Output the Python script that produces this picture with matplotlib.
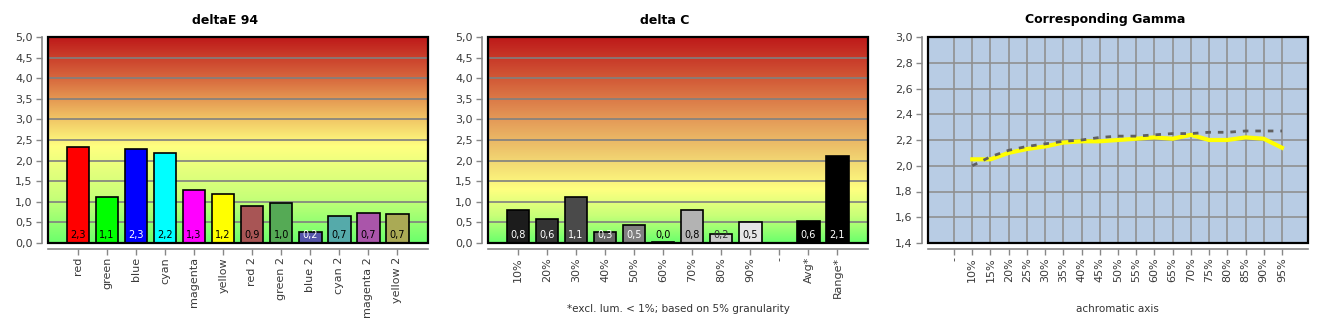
import matplotlib
matplotlib.use('Agg')
import matplotlib.pyplot as plt
import numpy as np
from matplotlib.colors import LinearSegmentedColormap
from matplotlib.patches import Rectangle

# deltaE 94
de_names = ['red', 'green', 'blue', 'cyan', 'magenta', 'yellow',
            'red 2', 'green 2', 'blue 2', 'cyan 2', 'magenta 2', 'yellow 2']
de_values = [2.33, 1.11, 2.28, 2.18, 1.28, 1.19, 0.90, 0.98, 0.27, 0.65, 0.73, 0.70]
de_labels = ['2,3', '1,1', '2,3', '2,2', '1,3', '1,2', '0,9', '1,0', '0,2', '0,7', '0,7', '0,7']
de_colors = ['#FF0000', '#00FF00', '#0000FF', '#00FFFF', '#FF00FF', '#FFFF00',
             '#A85555', '#55AA55', '#5555AA', '#55AAAA', '#AA55AA', '#AAAA55']
de_txt = ['black', 'black', 'white', 'black', 'black', 'black',
          'black', 'black', 'white', 'black', 'black', 'black']

# delta C
dc_names = ['10%', '20%', '30%', '40%', '50%', '60%', '70%', '80%', '90%', '-', 'Avg*', 'Range*']
dc_values = [0.80, 0.58, 1.11, 0.27, 0.44, 0.02, 0.80, 0.22, 0.51, None, 0.54, 2.12]
dc_labels = ['0,8', '0,6', '1,1', '0,3', '0,5', '0,0', '0,8', '0,2', '0,5', '', '0,6', '2,1']
dc_colors = ['#1C1C1C', '#333333', '#4A4A4A', '#666666', '#808080', '#999999',
             '#B3B3B3', '#CCCCCC', '#E6E6E6', 'none', '#000000', '#000000']
dc_txt = ['white', 'white', 'white', 'white', 'white', 'black',
          'black', '#333333', 'black', 'black', 'white', 'white']

# Corresponding Gamma
gm_names = ['-', '10%', '15%', '20%', '25%', '30%', '35%', '40%', '45%', '50%',
            '55%', '60%', '65%', '70%', '75%', '80%', '85%', '90%', '95%']
gm_measured = [np.nan, 2.05, 2.05, 2.10, 2.13, 2.15, 2.18, 2.19, 2.19, 2.20,
               2.21, 2.22, 2.21, 2.24, 2.20, 2.20, 2.22, 2.21, 2.14]
gm_target = [np.nan, 2.00, 2.07, 2.12, 2.15, 2.17, 2.19, 2.20, 2.22, 2.23,
             2.23, 2.24, 2.25, 2.25, 2.26, 2.26, 2.27, 2.27, 2.27]

yt_de = [0, 0.5, 1, 1.5, 2, 2.5, 3, 3.5, 4, 4.5, 5]
yt_de_lbl = ['0,0', '0,5', '1,0', '1,5', '2,0', '2,5', '3,0', '3,5', '4,0', '4,5', '5,0']
yt_gm = [1.4, 1.6, 1.8, 2.0, 2.2, 2.4, 2.6, 2.8, 3.0]
yt_gm_lbl = ['1,4', '1,6', '1,8', '2,0', '2,2', '2,4', '2,6', '2,8', '3,0']

plt.rcParams['font.family'] = 'DejaVu Sans'
tick_col = '#3A3A3A'
axis_col = '#888888'

fig = plt.figure(figsize=(13.3, 3.3), dpi=100)
W, H = 1330., 330.


def make_ax(x0):
    ax = fig.add_axes([x0 / W, (H - 243) / H, 380 / W, 206 / H])
    for s in ['top', 'right']:
        ax.spines[s].set_visible(False)
    for s in ['left', 'bottom']:
        ax.spines[s].set_position(('outward', 4))
        ax.spines[s].set_color(axis_col)
        ax.spines[s].set_linewidth(1.2)
    ax.tick_params(colors=axis_col, labelcolor=tick_col, labelsize=8, length=4, width=1)
    ax.tick_params(axis='x', pad=2)
    ax.tick_params(axis='y', pad=3)
    ax.add_patch(Rectangle((0, 0), 1, 1, transform=ax.transAxes, fill=False,
                           ec='black', lw=1.6, zorder=6, clip_on=False))
    return ax


def bar_panel(ax, names, vals, labels, colors, txtc, stops):
    n = len(names)
    x = np.arange(n)
    ax.set_xlim(-1.03, n + 0.05)
    ax.set_ylim(0, 5)
    cmap = LinearSegmentedColormap.from_list('g', stops, N=512)
    grad = np.linspace(0, 1, 206).reshape(-1, 1)
    ax.imshow(grad, cmap=cmap, origin='lower', aspect='auto', interpolation='none',
              extent=[-1.03, n + 0.05, 0, 5], zorder=0)
    for y in yt_de[1:-1]:
        ax.axhline(y, color='#808080', lw=1.2, zorder=1)
    for i in range(n):
        if vals[i] is None:
            continue
        ax.bar(x[i], vals[i], width=0.77, color=colors[i], edgecolor='black',
               lw=1.2, zorder=2)
        ax.text(x[i], 0.19, labels[i], ha='center', va='center', fontsize=7,
                color=txtc[i], zorder=3)
    ax.set_xticks(x)
    ax.set_xticklabels(names, rotation=90)
    ax.set_yticks(yt_de)
    ax.set_yticklabels(yt_de_lbl)


ax1 = make_ax(48)
bar_panel(ax1, de_names, de_values, de_labels, de_colors, de_txt,
          [(0.0, '#6CFF6C'), (0.22, '#C8FF78'), (0.47, '#FFFF80'),
           (0.62, '#EFBE62'), (0.8, '#D8693E'), (1.0, '#BE1A1A')])

ax2 = make_ax(488)
bar_panel(ax2, dc_names, dc_values, dc_labels, dc_colors, dc_txt,
          [(0.0, '#6CFF6C'), (0.13, '#C8FF78'), (0.26, '#FFFF80'),
           (0.42, '#F0D070'), (0.6, '#E49A58'), (0.78, '#D4603A'), (1.0, '#BE1A1A')])

ax3 = make_ax(928)
ax3.set_facecolor('#B8CCE4')
xg = np.arange(len(gm_names))
ax3.set_xlim(-1.43, len(gm_names) - 1 + 1.43)
ax3.set_ylim(1.4, 3.0)
for xv in xg:
    ax3.axvline(xv, color='#909090', lw=1.2, zorder=1)
for yv in yt_gm[1:-1]:
    ax3.axhline(yv, color='#909090', lw=1.2, zorder=1)
ax3.plot(xg, gm_measured, color='#FFFF00', lw=3, zorder=3)
ax3.plot(xg, gm_target, color='#606060', lw=2, ls=(0, (2, 2.5)), zorder=4)
ax3.set_xticks(xg)
ax3.set_xticklabels(gm_names, rotation=90)
ax3.set_yticks(yt_gm)
ax3.set_yticklabels(yt_gm_lbl)

# titles
fig.text(225 / W, 1 - 20 / H, 'deltaE 94', ha='center', va='center', fontsize=9, fontweight='bold')
fig.text(665 / W, 1 - 20 / H, 'delta C', ha='center', va='center', fontsize=9, fontweight='bold')
fig.text(1105 / W, 1 - 20 / H, 'Corresponding Gamma', ha='center', va='center', fontsize=9, fontweight='bold')

fig.text(678 / W, 1 - 309 / H, '*excl. lum. < 1%; based on 5% granularity',
         ha='center', va='center', fontsize=7.5, color='#333333')
fig.text(1117 / W, 1 - 309 / H, 'achromatic axis',
         ha='center', va='center', fontsize=7.5, color='#333333')

fig.savefig('out.png', dpi=100, facecolor='white')
